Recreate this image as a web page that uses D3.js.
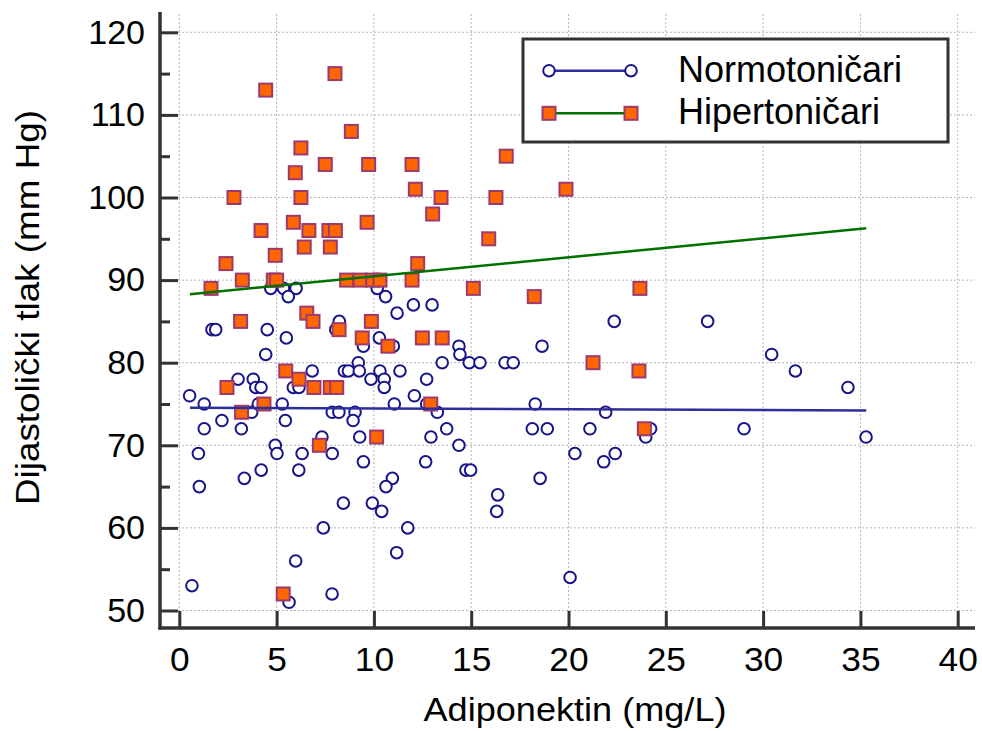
<!DOCTYPE html>
<html>
<head>
<meta charset="utf-8">
<script src="https://cdn.jsdelivr.net/npm/d3@7/dist/d3.min.js"></script>
<style>
  html, body { margin: 0; padding: 0; background: #fff; }
  svg { display: block; font-family: "Liberation Sans", Arial, sans-serif; }
</style>
</head>
<body>
<svg id="chart" width="982" height="731"></svg>
<script>
// ---- data ----
const xTicks = [0, 5, 10, 15, 20, 25, 30, 35, 40];
const yTicks = [50, 60, 70, 80, 90, 100, 110, 120];
const yMinorTicks = [55, 65, 75, 85, 95, 105, 115];

const seriesNames = ["Normotoničari", "Hipertoničari"];

// Normotoničari (adiponectin, diastolic)
const normoX = [4.7, 5.35, 6.0, 5.6, 10.17, 10.6, 11.19, 12.03, 12.99, 1.68, 1.87, 4.52, 5.5, 8.22, 8.04, 10.28, 9.46, 11.0, 4.44, 6.83,
  8.48, 8.69, 9.2, 9.25, 9.85, 10.31, 10.53, 10.53, 11.34, 12.71, 13.51, 3.02, 3.8, 3.93, 4.2, 0.53, 1.28, 2.19, 1.28, 3.19,
  3.72, 4.06, 5.29, 5.45, 5.86, 6.15, 7.86, 8.2, 9.03, 8.93, 11.05, 12.08, 12.71, 13.26, 13.74, 4.93, 0.98, 5.02, 6.31, 7.33,
  7.86, 9.27, 12.93, 9.46, 12.66, 4.21, 6.14, 3.34, 10.95, 10.62, 1.03, 8.43, 9.92, 10.4, 7.4, 11.74, 11.17, 5.98, 0.65, 7.85,
  5.64, 22.35, 27.15, 14.37, 14.42, 18.64, 14.9, 15.45, 16.74, 17.16, 18.29, 21.91, 18.14, 18.91, 21.1, 24.22, 23.97, 14.37, 20.33, 22.4,
  21.81, 14.73, 14.97, 18.54, 16.36, 16.31, 20.08, 30.44, 31.66, 34.36, 29.02, 35.29];
const normoY = [89, 89, 89, 88, 89, 88, 86, 87, 87, 84, 84, 84, 83, 85, 84, 83, 82, 82, 81, 79,
  79, 79, 80, 79, 78, 79, 78, 77, 79, 78, 80, 78, 78, 77, 77, 76, 75, 73, 72, 72,
  74, 75, 75, 73, 77, 77, 74, 74, 74, 73, 75, 76, 75, 74, 72, 70, 69, 69, 69, 71,
  69, 71, 71, 68, 68, 67, 67, 66, 66, 65, 65, 63, 63, 62, 60, 60, 57, 56, 53, 52,
  51, 85, 85, 82, 81, 82, 80, 80, 80, 80, 75, 74, 72, 72, 72, 72, 71, 70, 69, 69,
  68, 67, 67, 66, 64, 62, 54, 81, 79, 77, 72, 71];

// Hipertoničari
const hyperX = [8.0, 4.44, 8.84, 6.25, 16.8, 5.96, 7.5, 9.73, 11.96, 12.13, 19.87, 13.45, 2.81, 6.25, 16.27, 13.02, 5.86, 9.65, 4.2, 6.66,
  7.69, 8.02, 15.9, 6.42, 7.76, 4.93, 2.4, 12.25, 1.63, 3.24, 4.83, 5.0, 8.6, 9.29, 9.94, 10.31, 11.96, 15.11, 23.67, 18.24,
  6.55, 6.87, 3.15, 9.87, 8.21, 9.4, 12.49, 13.51, 10.72, 21.26, 5.47, 23.62, 6.15, 2.45, 6.92, 7.76, 8.09, 4.35, 12.92, 3.2,
  23.9, 10.14, 7.2, 5.34];
const hyperY = [115, 113, 108, 106, 105, 103, 104, 104, 104, 101, 101, 100, 100, 100, 100, 98, 97, 97, 96, 96,
  96, 96, 95, 94, 94, 93, 92, 92, 89, 90, 90, 90, 90, 90, 90, 90, 90, 89, 89, 88,
  86, 85, 85, 85, 84, 83, 83, 83, 82, 80, 79, 79, 78, 77, 77, 77, 77, 75, 75, 74,
  72, 71, 70, 52];

// regression lines, over the overall x range
const trendX = [0.55, 35.3];
const normoTrend = [74.55, 74.22];
const hyperTrend = [88.3, 96.27];

// ---- drawing ----
const svg = d3.select("#chart");
const axisColor = "#333333";
const x = d3.scaleLinear().domain([0, 40]).range([179.3, 957.7]);
const y = d3.scaleLinear().domain([50, 120]).range([610.5, 32.3]);
const axisLeftX = 160, axisBottomY = 628, plotRight = 975, plotTop = 14;

// grid
const grid = svg.append("g").attr("stroke", "#b4b4b4").attr("stroke-width", 1).attr("stroke-dasharray", "2,2");
grid.selectAll("line.v").data(xTicks).join("line")
  .attr("x1", d => x(d)).attr("x2", d => x(d)).attr("y1", plotTop).attr("y2", axisBottomY - 16);
grid.selectAll("line.h").data(yTicks).join("line")
  .attr("x1", axisLeftX + 18).attr("x2", plotRight).attr("y1", d => y(d)).attr("y2", d => y(d));

// axes
const yAxis = d3.axisLeft(y).tickValues(yTicks).tickSize(-18).tickPadding(15);
const gy = svg.append("g").attr("transform", `translate(${axisLeftX},0)`).call(yAxis);
gy.select(".domain").remove();
gy.selectAll(".tick line").attr("stroke", axisColor).attr("stroke-width", 3);
gy.selectAll(".tick text").attr("font-size", 34).attr("fill", "#000").attr("font-family", "Liberation Sans, Arial, sans-serif");

const yMinor = d3.axisLeft(y).tickValues(yMinorTicks).tickSize(-10).tickFormat("");
const gym = svg.append("g").attr("transform", `translate(${axisLeftX},0)`).call(yMinor);
gym.select(".domain").remove();
gym.selectAll(".tick line").attr("stroke", axisColor).attr("stroke-width", 3);

const xAxis = d3.axisBottom(x).tickValues(xTicks).tickSize(-17).tickPadding(20);
const gx = svg.append("g").attr("transform", `translate(0,${axisBottomY})`).call(xAxis);
gx.select(".domain").remove();
gx.selectAll(".tick line").attr("stroke", axisColor).attr("stroke-width", 3);
gx.selectAll(".tick text").attr("font-size", 33).attr("fill", "#000")
  .attr("font-family", "Liberation Sans, Arial, sans-serif").attr("transform", "scale(1.07,1)");

svg.append("line").attr("x1", axisLeftX).attr("x2", axisLeftX).attr("y1", 12).attr("y2", axisBottomY + 1.5)
  .attr("stroke", axisColor).attr("stroke-width", 3.5);
svg.append("line").attr("x1", axisLeftX - 1.5).attr("x2", plotRight).attr("y1", axisBottomY).attr("y2", axisBottomY)
  .attr("stroke", axisColor).attr("stroke-width", 3.5);

// axis titles
svg.append("text").attr("x", 575).attr("y", 721).attr("text-anchor", "middle")
  .attr("font-size", 34).attr("textLength", 303).attr("lengthAdjust", "spacingAndGlyphs")
  .attr("fill", "#000").text("Adiponektin (mg/L)");
svg.append("text").attr("transform", "translate(39,307.5) rotate(-90)").attr("text-anchor", "middle")
  .attr("font-size", 34).attr("textLength", 395).attr("lengthAdjust", "spacingAndGlyphs")
  .attr("fill", "#000").text("Dijastolički tlak (mm Hg)");

// markers
const normoColor = "#16168a", hyperFill = "#ff6600", hyperStroke = "#9b3a6e";
const normo = normoX.map((v, i) => ({ x: v, y: normoY[i] }));
const hyper = hyperX.map((v, i) => ({ x: v, y: hyperY[i] }));
const sq = 13;

svg.append("g").selectAll("circle").data(normo).join("circle")
  .attr("cx", d => x(d.x)).attr("cy", d => y(d.y)).attr("r", 5.8)
  .attr("fill", "#fff").attr("stroke", normoColor).attr("stroke-width", 2);

svg.append("g").selectAll("rect").data(hyper).join("rect")
  .attr("x", d => x(d.x) - sq / 2).attr("y", d => y(d.y) - sq / 2).attr("width", sq).attr("height", sq)
  .attr("fill", hyperFill).attr("stroke", hyperStroke).attr("stroke-width", 2);

// regression lines
const line = d3.line().x(d => x(d[0])).y(d => y(d[1]));
svg.append("path").datum(trendX.map((v, i) => [v, normoTrend[i]])).attr("d", line)
  .attr("fill", "none").attr("stroke", "#2e2e9a").attr("stroke-width", 2.5);
svg.append("path").datum(trendX.map((v, i) => [v, hyperTrend[i]])).attr("d", line)
  .attr("fill", "none").attr("stroke", "#007000").attr("stroke-width", 2.5);

// legend
const lg = svg.append("g");
lg.append("rect").attr("x", 523).attr("y", 39).attr("width", 425).attr("height", 103)
  .attr("fill", "#fff").attr("stroke", axisColor).attr("stroke-width", 3);
const legendRows = [
  { name: seriesNames[0], y: 70.7, color: "#2e2e9a", kind: "circle" },
  { name: seriesNames[1], y: 113.3, color: "#007000", kind: "rect" }
];
legendRows.forEach(r => {
  lg.append("line").attr("x1", 549).attr("x2", 631).attr("y1", r.y).attr("y2", r.y)
    .attr("stroke", r.color).attr("stroke-width", 2.5);
  [549, 631].forEach(cx => {
    if (r.kind === "circle") {
      lg.append("circle").attr("cx", cx).attr("cy", r.y).attr("r", 5.8)
        .attr("fill", "#fff").attr("stroke", normoColor).attr("stroke-width", 2);
    } else {
      lg.append("rect").attr("x", cx - sq / 2).attr("y", r.y - sq / 2).attr("width", sq).attr("height", sq)
        .attr("fill", hyperFill).attr("stroke", hyperStroke).attr("stroke-width", 2);
    }
  });
  lg.append("text").attr("x", 678).attr("y", r.y + 11).attr("font-size", 36).attr("fill", "#000").text(r.name);
});
</script>
</body>
</html>
